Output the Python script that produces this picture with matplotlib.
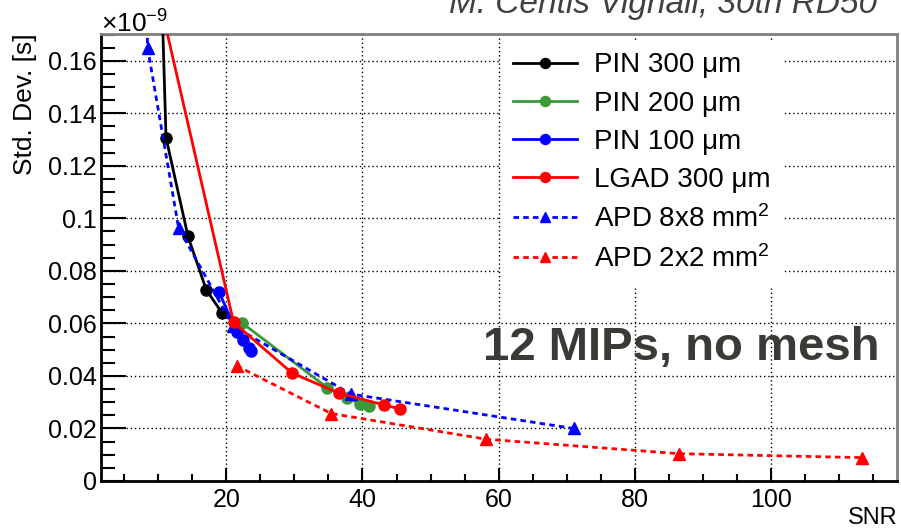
import numpy as np
import matplotlib
matplotlib.use("Agg")
import matplotlib.pyplot as plt
from matplotlib.ticker import MultipleLocator

plt.rcParams['font.family'] = ['Liberation Sans', 'DejaVu Sans']
plt.rcParams['mathtext.fontset'] = 'custom'
plt.rcParams['mathtext.rm'] = 'Liberation Sans'
plt.rcParams['mathtext.it'] = 'Liberation Sans:italic'
plt.rcParams['mathtext.default'] = 'regular'

# data (SNR, std dev in units of 1e-9 s)
pin300_snr = [10.47, 11.15, 14.38, 17.06, 19.37]
pin300_sd = [0.19, 0.1307, 0.0931, 0.0728, 0.0640]

pin200_snr = [22.3, 34.8, 37.7, 39.7, 41.0]
pin200_sd = [0.0602, 0.0356, 0.0316, 0.0295, 0.0284]

pin100_snr = [18.9, 21.6, 22.5, 23.3, 23.6]
pin100_sd = [0.0721, 0.0566, 0.0538, 0.0506, 0.0494]

lgad300_snr = [9.6, 21.07, 29.65, 36.5, 43.1, 45.55]
lgad300_sd = [0.19, 0.0604, 0.0411, 0.0335, 0.0290, 0.0274]

apd8_snr = [8.1, 8.44, 13.0, 21.0, 38.3, 71.0]
apd8_sd = [0.20, 0.165, 0.0963, 0.059, 0.0331, 0.0200]

apd2_snr = [21.5, 35.4, 58.2, 86.5, 113.4]
apd2_sd = [0.0439, 0.0257, 0.0159, 0.0104, 0.0089]

green = '#3a9a3a'

fig = plt.figure(figsize=(9.01, 5.31), dpi=100)
ax = fig.add_axes([101/901, 1-481/531, 796/901, 447/531])

lw = 2
ms = 8
ax.plot(pin300_snr, pin300_sd, '-o', color='black', lw=lw, ms=ms, label='PIN 300 \u03bcm', zorder=3)
ax.plot(pin200_snr, pin200_sd, '-o', color=green, lw=lw, ms=ms, label='PIN 200 \u03bcm', zorder=3)
ax.plot(pin100_snr, pin100_sd, '-o', color='#0000ff', lw=lw, ms=ms, label='PIN 100 \u03bcm', zorder=3)
ax.plot(lgad300_snr, lgad300_sd, '-o', color='#ff0000', lw=lw, ms=ms, label='LGAD 300 \u03bcm', zorder=4)
ax.plot(apd8_snr, apd8_sd, '^', ls=(0, (2, 1.5)), color='#0000ff', lw=lw, ms=ms,
        label='APD 8x8 mm$^{2}$', zorder=3)
ax.plot(apd2_snr, apd2_sd, '^', ls=(0, (2, 1.5)), color='#ff0000', lw=lw, ms=ms,
        label='APD 2x2 mm$^{2}$', zorder=3)

ax.set_xlim(1.6, 118.5)
ax.set_ylim(0, 0.1702)

ax.xaxis.set_major_locator(MultipleLocator(20))
ax.xaxis.set_minor_locator(MultipleLocator(5))
ax.yaxis.set_minor_locator(MultipleLocator(0.005))
ax.set_yticks([0, 0.02, 0.04, 0.06, 0.08, 0.1, 0.12, 0.14, 0.16])
ax.set_yticklabels(['0', '0.02', '0.04', '0.06', '0.08', '0.1', '0.12', '0.14', '0.16'])

ax.tick_params(axis='both', which='both', direction='in', top=False, right=False,
               labelsize=18, width=1.5, color='black')
ax.tick_params(axis='y', which='major', length=18, pad=3)
ax.tick_params(axis='y', which='minor', length=10)
ax.tick_params(axis='x', which='major', length=9.5, pad=5)
ax.tick_params(axis='x', which='minor', length=5)

ax.grid(True, which='major', color='black', ls=(0, (1, 2)), lw=1)

for s in ['left', 'bottom']:
    ax.spines[s].set_linewidth(2)
    ax.spines[s].set_color('black')
for s in ['top', 'right']:
    ax.spines[s].set_linewidth(2)
    ax.spines[s].set_color('#808080')

leg = ax.legend(loc='upper left', bbox_to_anchor=(0.502, 0.987), borderaxespad=0,
                fontsize=20, frameon=True, fancybox=False, framealpha=1,
                handlelength=2.3, handletextpad=0.6, labelspacing=0.44,
                borderpad=0.45, markerscale=0.9)
leg.get_frame().set_edgecolor('none')
leg.get_frame().set_facecolor('white')
leg.set_zorder(5)

ax.text(0.978, 0.27, '12 MIPs, no mesh', transform=ax.transAxes, ha='right',
        va='baseline', fontsize=34, fontweight='bold', color='#3a3a36', zorder=6)

fig.text(877/901, 1-13/531, 'M. Centis Vignali, 30th RD50', ha='right', va='baseline',
         fontsize=24, style='italic', color='#404040')
fig.text(101/901, 1-33/531, r'$\times10^{-9}$', ha='left', va='baseline', fontsize=19)
fig.text(25/901, 1-33/531, 'Std. Dev. [s]', rotation=90, ha='center', va='top', fontsize=19)
fig.text(898/901, 2/531, 'SNR', ha='right', va='bottom', fontsize=17)

fig.savefig('out.png', dpi=100)
